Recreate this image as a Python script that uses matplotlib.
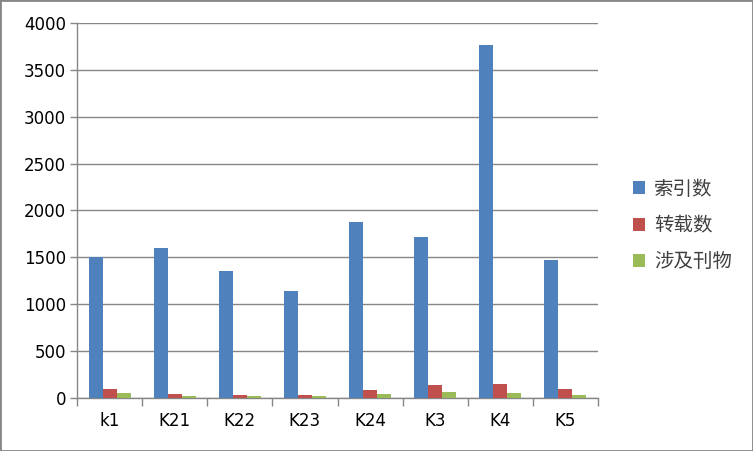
import matplotlib
matplotlib.use("Agg")
import matplotlib.pyplot as plt
import numpy as np
from matplotlib.patches import Rectangle

plt.rcParams['font.family'] = ['Noto Sans CJK SC', 'DejaVu Sans']

categories = ["k1", "K21", "K22", "K23", "K24", "K3", "K4", "K5"]
index_counts = [1500, 1600, 1360, 1140, 1880, 1720, 3770, 1470]
reprint_counts = [96, 43, 32, 32, 85, 139, 149, 96]
journal_counts = [53, 21, 21, 21, 43, 64, 53, 32]
series_names = ["索引数", "转载数", "涉及刊物"]
colors = ["#4F81BD", "#C0504D", "#9BBB59"]

fig = plt.figure(figsize=(7.53, 4.51), dpi=100)
ax = fig.add_axes([77/753, 1-398/451, (598-77)/753, (398-23)/451])

x = np.arange(len(categories))
w = 0.215
for i, (vals, name, c) in enumerate(zip([index_counts, reprint_counts, journal_counts], series_names, colors)):
    ax.bar(x + (i-1)*w, vals, width=w, color=c, label=name, zorder=3)

ax.set_xlim(-0.5, len(categories)-0.5)
ax.set_ylim(0, 4000)
ax.set_yticks(np.arange(0, 4001, 500))
ax.grid(axis='y', color='#868686', linewidth=1.0, zorder=0)
for s in ['top', 'right']:
    ax.spines[s].set_visible(False)
for s in ['left', 'bottom']:
    ax.spines[s].set_color('#868686')
    ax.spines[s].set_linewidth(1.0)
ax.set_xticks(x)
ax.set_xticklabels(categories, fontsize=12)
ax.set_xticks(np.arange(-0.5, len(categories)), minor=True)
ax.tick_params(axis='x', which='major', length=0, pad=10)
ax.tick_params(axis='x', which='minor', length=6, color='#868686', width=1)
ax.tick_params(axis='y', length=5, color='#868686', width=1, labelsize=12, pad=3)
for lbl in ax.get_yticklabels() + ax.get_xticklabels():
    lbl.set_fontfamily(['DejaVu Sans'])

leg = fig.legend(loc='upper left', bbox_to_anchor=(625/753, 1-171/451), frameon=False,
                 fontsize=14, handlelength=0.65, handleheight=0.65, labelspacing=0.78,
                 handletextpad=0.45, borderaxespad=0)
for t in leg.get_texts():
    t.set_color('#404040')

fig.patches.append(Rectangle((0, 0), 1, 1, transform=fig.transFigure,
                             fill=False, edgecolor='#868686', linewidth=2))

fig.savefig("out.png", dpi=100)
